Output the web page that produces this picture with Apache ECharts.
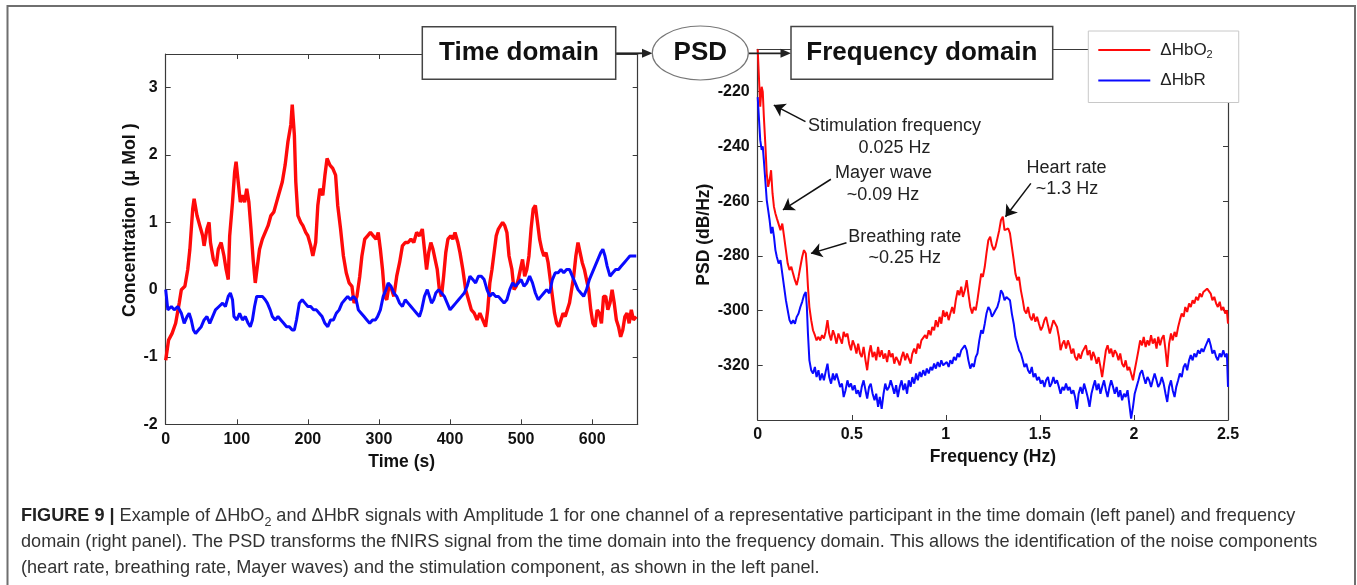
<!DOCTYPE html>
<html><head><meta charset="utf-8">
<script src="https://cdn.jsdelivr.net/npm/echarts@6/dist/echarts.min.js"></script>
<style>html,body{margin:0;padding:0;background:#fff}#c{width:1357px;height:585px}</style>
</head><body><div id="c"></div>
<script>
// ---------- Tick labels ----------
const timeTicks = [0, 100, 200, 300, 400, 500, 600];
const concTicks = [-2, -1, 0, 1, 2, 3];
const freqTicks = [0, 0.5, 1, 1.5, 2, 2.5];
const psdTicks = [-320, -300, -280, -260, -240, -220];

// ---------- Time domain (left panel) ----------
const hbo2Time = [0,4,9,14,19,22,27,31,34,38,
40,44,48,52,54,58,61,63,67,71,
74,78,82,85,88,90,94,97,99,102,
105,108,111,114,117,120,123,126,129,132,
136,140,144,148,152,156,160,164,168,172,
176,178,181,183,186,190,193,197,200,204,
207,211,214,217,221,224,227,231,235,239,
242,246,250,254,258,262,265,269,273,276,
280,284,288,292,296,299,302,305,308,311,
314,318,321,325,329,333,337,341,345,349,
353,357,361,364,367,370,373,376,379,382,
385,388,391,394,397,401,404,407,411,414,
418,422,426,430,434,438,442,446,450,453,
456,459,462,465,468,471,474,477,480,483,
487,490,493,496,499,502,505,508,511,514,
517,520,523,526,529,532,535,538,541,544,
547,550,553,556,559,562,565,568,571,574,
577,580,583,586,589,592,595,598,601,604,
607,610,613,616,619,622,625,628,631,634,
637,640,643,646,649,652,655,658,662];
const hbo2Conc = [-1.05,-0.75,-0.65,-0.5,-0.2,0,0.05,0.3,0.6,1.2,
1.35,1.1,0.95,0.8,0.65,0.9,1.0,0.7,0.45,0.35,
0.6,0.7,0.5,0.3,0.15,0.8,1.3,1.75,1.9,1.6,
1.3,1.4,1.3,1.5,1.3,0.9,0.45,0.1,0.35,0.6,
0.75,0.85,0.95,1.1,1.15,1.3,1.45,1.6,1.85,2.2,
2.45,2.75,2.3,1.6,1.1,1.0,0.95,0.85,0.8,0.65,
0.5,0.7,1.25,1.5,1.4,1.7,1.95,1.85,1.8,1.7,
1.25,0.9,0.5,0.25,0.1,0.05,-0.2,-0.1,0.2,0.5,
0.75,0.8,0.85,0.8,0.75,0.85,0.6,0.3,-0.1,-0.15,
0.05,0.0,-0.1,0.2,0.4,0.65,0.7,0.7,0.75,0.7,
0.85,0.8,0.9,0.6,0.3,0.55,0.7,0.6,0.45,0.3,
0.0,-0.1,0.2,0.55,0.75,0.8,0.75,0.85,0.7,0.55,
0.3,0.0,-0.15,-0.3,-0.35,-0.45,-0.35,-0.45,-0.55,-0.3,
0.1,0.3,0.55,0.8,0.9,0.95,1.0,0.95,0.85,0.5,
0.3,0.0,0.05,0.15,0.3,0.45,0.2,0.3,0.5,0.9,
1.2,1.25,1.0,0.75,0.6,0.5,0.55,0.4,0.15,-0.1,
-0.35,-0.5,-0.55,-0.45,-0.35,-0.4,-0.3,-0.2,0.0,0.2,
0.5,0.7,0.55,0.4,0.3,0.15,0.0,-0.3,-0.5,-0.55,
-0.3,-0.35,-0.5,-0.1,-0.1,-0.3,-0.2,0.0,-0.2,-0.45,
-0.55,-0.7,-0.6,-0.4,-0.35,-0.5,-0.3,-0.45,-0.4];

const hbrTime = [0,3,8,12,17,22,26,30,33,36,
39,42,46,50,54,58,62,66,70,75,
80,84,88,91,94,96,100,104,108,112,
116,119,122,125,128,132,136,140,143,147,
150,154,158,162,166,170,174,178,181,184,
188,192,196,200,204,208,212,216,220,224,
228,232,236,240,244,248,252,256,260,264,
268,271,275,279,283,287,291,295,298,302,
306,310,313,317,321,325,329,333,337,341,
345,349,353,357,360,364,368,371,374,377,
380,384,388,392,396,400,404,408,412,416,
420,424,428,432,436,440,444,448,452,456,
460,464,468,472,476,480,484,488,492,496,
500,504,508,512,516,520,524,528,532,536,
540,544,548,552,556,560,564,568,572,576,
580,584,588,592,596,600,604,608,612,615,
618,621,625,629,633,637,641,645,649,653,
657,662];
const hbrConc = [0.0,-0.3,-0.25,-0.3,-0.25,-0.35,-0.5,-0.4,-0.35,-0.45,
-0.6,-0.65,-0.6,-0.55,-0.45,-0.4,-0.5,-0.4,-0.3,-0.25,
-0.2,-0.25,-0.1,-0.05,-0.15,-0.4,-0.45,-0.35,-0.45,-0.4,
-0.5,-0.55,-0.45,-0.25,-0.1,-0.1,-0.1,-0.15,-0.2,-0.3,
-0.4,-0.45,-0.4,-0.45,-0.5,-0.55,-0.55,-0.6,-0.6,-0.45,
-0.2,-0.15,-0.2,-0.25,-0.25,-0.3,-0.3,-0.35,-0.4,-0.5,
-0.55,-0.45,-0.45,-0.35,-0.3,-0.2,-0.15,-0.1,-0.15,-0.1,
-0.15,-0.3,-0.35,-0.4,-0.45,-0.5,-0.45,-0.45,-0.4,-0.3,
-0.1,0.0,0.1,0.05,-0.05,-0.1,-0.2,-0.25,-0.15,-0.2,
-0.25,-0.3,-0.35,-0.4,-0.3,-0.1,0.0,-0.1,-0.2,-0.15,
-0.05,0.0,-0.05,-0.1,-0.2,-0.3,-0.25,-0.2,-0.15,-0.1,
-0.05,0.05,0.2,0.15,0.1,0.2,0.2,0.15,0.0,-0.1,
-0.05,-0.1,-0.1,-0.15,-0.2,-0.15,0.0,0.1,0.05,0.1,
0.15,0.05,0.1,0.2,0.1,-0.05,-0.15,-0.1,-0.05,0.0,
-0.05,0.15,0.25,0.25,0.3,0.25,0.3,0.3,0.2,0.1,
0.0,-0.05,-0.1,0.0,0.15,0.25,0.35,0.45,0.55,0.6,
0.5,0.35,0.2,0.25,0.3,0.3,0.35,0.4,0.45,0.5,
0.5,0.5];

// ---------- Frequency domain (right panel) ----------
const psdFreq = [0,0.0135,0.0211,0.0269,0.0327,0.0404,0.048,0.0557,0.0634,0.0711,
0.0788,0.0865,0.0942,0.1018,0.1115,0.1211,0.1307,0.1403,0.1499,0.1595,
0.1691,0.1787,0.1883,0.1979,0.2075,0.2171,0.2267,0.2364,0.246,0.2556,
0.2613,0.2671,0.2748,0.2844,0.294,
0.304,0.313,0.323,0.332,0.342,0.352,0.361,0.371,0.380,0.390,
0.400,0.409,0.419,0.429,0.438,0.448,0.457,0.467,0.477,0.486,
0.496,0.505,0.515,0.525,0.534,0.544,0.553,0.563,0.573,0.582,
0.592,0.601,0.611,0.621,0.630,0.640,0.649,0.659,0.669,0.678,
0.688,0.698,0.707,0.717,0.726,0.736,0.745,0.755,0.765,0.774,
0.784,0.794,0.803,0.813,0.822,0.832,0.842,0.851,0.861,0.870,
0.880,0.890,0.899,0.909,0.919,0.928,0.938,0.947,0.957,0.967,
0.976,0.986,0.995,1.005,1.015,1.024,1.034,1.043,1.053,1.063,
1.072,1.082,1.091,1.101,1.111,1.120,1.130,1.140,1.149,1.159,
1.168,1.178,1.188,1.197,1.207,1.216,1.226,1.236,1.245,1.255,
1.264,1.274,1.284,1.293,1.303,1.312,1.322,1.332,1.341,1.351,
1.361,1.370,1.380,1.389,1.399,1.409,1.418,1.428,1.437,1.447,
1.457,1.466,1.476,1.485,1.495,1.505,1.514,1.524,1.533,1.543,
1.553,1.562,1.572,1.581,1.591,1.601,1.610,1.620,1.629,1.639,
1.649,1.658,1.668,1.678,1.687,1.697,1.706,1.716,1.726,1.735,
1.745,1.754,1.764,1.774,1.783,1.793,1.802,1.812,1.822,1.831,
1.841,1.851,1.860,1.870,1.879,1.889,1.898,1.908,1.918,1.927,
1.937,1.947,1.956,1.966,1.975,1.985,1.995,2.004,2.014,2.024,
2.033,2.043,2.052,2.062,2.072,2.081,2.091,2.100,2.110,2.120,
2.129,2.139,2.148,2.158,2.168,2.177,2.187,2.197,2.206,2.216,
2.225,2.235,2.244,2.254,2.264,2.273,2.283,2.293,2.302,2.312,
2.321,2.331,2.341,2.350,2.360,2.369,2.379,2.389,2.398,2.408,
2.417,2.427,2.437,2.446,2.456,2.465,2.475,2.485,2.494,2.500];

const psdHbO2 = [-204.5,-225.5,-218.2,-220.0,-229.1,-238.9,-249.9,-254.8,-252.3,-248.7,
-257.2,-262.1,-264.5,-266.3,-267.0,-270.6,-268.2,-273.0,-277.9,-282.8,
-285.2,-284.0,-286.5,-288.9,-290.7,-287.7,-284.0,-280.4,-277.9,-279.1,
-284.0,-291.3,-298.7,-303.5,-307.2,
-309.0,-310.9,-309.6,-310.9,-309.0,-310.2,-307.8,-303.5,-308.4,-310.9,
-307.2,-309.0,-312.1,-308.4,-310.2,-312.1,-307.8,-309.6,-308.4,-312.1,
-314.5,-310.9,-312.7,-315.7,-312.1,-315.7,-317.0,-313.3,-318.2,-321.8,
-315.7,-312.7,-317.0,-315.1,-318.2,-313.3,-317.0,-314.5,-317.6,-315.7,
-318.8,-314.5,-317.0,-315.7,-319.4,-317.0,-318.2,-320.0,-317.0,-315.1,
-318.2,-315.7,-317.6,-319.4,-315.7,-313.9,-315.7,-312.1,-313.9,-310.9,
-311.5,-309.0,-310.2,-307.2,-309.0,-306.0,-307.2,-303.5,-306.0,-302.3,
-304.8,-299.9,-302.3,-300.5,-303.5,-301.1,-298.7,-301.1,-296.2,-292.6,
-294.4,-291.3,-295.0,-292.6,-288.9,-293.8,-298.7,-301.1,-298.7,-299.9,
-296.2,-291.3,-286.5,-287.7,-284.0,-279.1,-274.3,-273.0,-276.1,-277.9,
-276.7,-273.7,-270.6,-267.0,-265.7,-270.6,-270.6,-270.0,-271.8,-276.7,
-281.6,-286.5,-288.9,-287.7,-292.6,-296.2,-299.9,-301.1,-298.7,-302.3,
-303.5,-301.1,-304.1,-302.3,-304.8,-307.2,-306.0,-303.5,-302.3,-305.4,
-308.4,-306.0,-303.5,-302.9,-306.0,-309.6,-314.5,-312.1,-310.9,-313.9,
-310.9,-312.7,-315.7,-313.9,-317.0,-318.2,-315.7,-317.6,-315.1,-315.7,
-312.7,-316.3,-314.5,-318.2,-315.1,-317.0,-319.4,-317.0,-320.6,-324.3,
-319.4,-314.5,-312.7,-315.7,-313.9,-317.0,-314.5,-315.7,-318.2,-315.7,
-319.4,-320.6,-318.2,-321.8,-320.6,-323.0,-325.5,-321.8,-318.2,-314.5,
-310.9,-312.7,-309.6,-313.3,-310.9,-312.7,-309.0,-312.1,-310.2,-313.9,
-309.6,-312.7,-310.2,-309.0,-314.5,-320.6,-312.1,-308.4,-310.9,-307.8,
-309.6,-306.0,-303.5,-301.1,-302.3,-298.7,-300.5,-297.4,-298.7,-296.2,
-297.4,-295.0,-296.2,-293.8,-295.0,-293.2,-293.8,-292.0,-291.3,-293.8,
-296.2,-295.0,-297.4,-298.7,-296.8,-299.9,-298.7,-301.1,-299.9,-304.8];

const psdHbR = [-222.0,-237.7,-241.3,-240.0,-245.0,-252.3,-259.6,-263.3,-267.0,-271.8,
-269.4,-273.0,-277.9,-280.4,-282.8,-281.6,-286.5,-291.3,-296.2,-299.9,
-303.5,-304.8,-303.5,-304.8,-302.3,-301.1,-298.7,-296.8,-294.4,-293.2,
-298.7,-308.4,-318.2,-321.8,-323.0,
-320.6,-324.3,-321.8,-325.5,-323.0,-325.5,-322.4,-319.4,-324.3,-326.7,
-323.0,-325.5,-323.0,-325.5,-327.9,-326.7,-331.6,-329.1,-325.5,-327.9,
-326.7,-329.1,-327.3,-330.4,-329.1,-331.6,-327.9,-325.5,-329.1,-332.2,
-327.9,-326.7,-330.4,-332.8,-330.4,-335.2,-331.6,-335.9,-330.4,-326.7,
-329.1,-327.9,-325.5,-327.9,-330.4,-327.3,-331.6,-327.9,-325.5,-329.1,
-326.7,-330.4,-325.5,-327.9,-324.3,-326.7,-323.0,-325.5,-322.4,-324.3,
-321.8,-323.7,-321.2,-323.0,-320.6,-321.8,-319.4,-321.2,-318.8,-320.6,
-318.2,-320.0,-320.6,-318.8,-320.6,-318.2,-319.4,-317.0,-318.2,-315.7,
-317.0,-314.5,-315.1,-312.7,-314.5,-318.2,-321.2,-319.4,-320.6,-317.0,
-315.7,-310.9,-307.2,-308.4,-304.8,-301.1,-298.7,-299.9,-302.3,-301.1,
-299.9,-298.7,-296.2,-292.6,-293.8,-296.2,-295.0,-294.4,-296.2,-301.1,
-304.8,-309.6,-312.1,-314.5,-315.7,-318.2,-320.6,-319.4,-321.8,-323.0,
-320.6,-324.3,-323.0,-325.5,-324.3,-326.7,-325.5,-327.9,-325.5,-324.3,
-327.9,-326.7,-324.3,-326.7,-325.5,-327.9,-330.4,-327.9,-329.1,-326.7,
-329.1,-327.9,-330.4,-329.1,-331.6,-335.9,-330.4,-327.9,-330.4,-326.7,
-329.1,-331.6,-335.2,-330.4,-327.9,-325.5,-329.1,-326.7,-330.4,-327.9,
-325.5,-329.1,-331.6,-327.9,-325.5,-327.9,-330.4,-327.9,-331.6,-329.1,
-332.8,-330.4,-331.6,-329.1,-334.0,-339.5,-335.2,-330.4,-327.9,-325.5,
-323.0,-321.8,-324.3,-326.7,-324.3,-325.5,-327.9,-325.5,-323.0,-325.5,
-327.9,-326.7,-324.3,-326.7,-330.4,-333.4,-327.9,-325.5,-329.1,-331.6,
-327.9,-325.5,-323.0,-324.3,-320.6,-319.4,-321.8,-318.2,-316.3,-318.2,
-315.7,-317.0,-314.5,-315.7,-313.9,-315.1,-313.3,-312.7,-310.2,-312.7,
-315.7,-314.5,-317.0,-318.2,-315.7,-317.0,-314.5,-317.0,-315.7,-327.9];

// ---------- Build ----------
const FONT = '"Liberation Sans", Arial, Helvetica, sans-serif';
const RED = '#ff0a0a', BLUE = '#0a0aff', AX = '#3a3a3a';
const zip = (a, b) => a.map((v, i) => [v, b[i]]);
const inList = (list) => (v) => list.some(t => Math.abs(t - v) < 1e-9) ? String(v) : '';

const lblStyle = {fontFamily: FONT, fontSize: 16, fontWeight: 'bold', color: '#111'};
const nameStyle = {fontFamily: FONT, fontSize: 17.5, fontWeight: 'bold', color: '#111'};
function mainAxis(extra) {
  return Object.assign({
    type: 'value', axisLine: {show: true, onZero: false, lineStyle: {color: AX, width: 1.2}},
    axisTick: {show: true, inside: true, length: 5, lineStyle: {color: AX, width: 1}},
    splitLine: {show: false}, nameTextStyle: nameStyle
  }, extra);
}
function mirrorAxis(extra) {
  return Object.assign({
    type: 'value', axisLine: {show: true, onZero: false, lineStyle: {color: AX, width: 1.2}},
    axisTick: {show: true, inside: true, length: 5, lineStyle: {color: AX, width: 1}},
    axisLabel: {show: false}, splitLine: {show: false}
  }, extra);
}

const annText = (x, y, t) => ({type: 'text', x: x, y: y, z: 50,
  style: {text: t, fontFamily: FONT, fontSize: 18, fill: '#222', align: 'center', verticalAlign: 'middle'}});

const caption =
  '{b|FIGURE 9 |} Example of ΔHbO{sub|2} and ΔHbR signals with Amplitude 1 for one channel of a representative participant in the time domain (left panel) and frequency\n' +
  'domain (right panel). The PSD transforms the fNIRS signal from the time domain into the frequency domain. This allows the identification of the noise components\n' +
  '(heart rate, breathing rate, Mayer waves) and the stimulation component, as shown in the left panel.';

const chart = echarts.init(document.getElementById('c'), null, {renderer: 'canvas'});
chart.setOption({
  animation: false,
  backgroundColor: '#fff',
  grid: [
    {left: 165.7, top: 54, width: 472, height: 370.3, containLabel: false},
    {left: 757.7, top: 49.3, width: 470.3, height: 370.7, containLabel: false}
  ],
  xAxis: [
    mainAxis({gridIndex: 0, position: 'bottom', min: timeTicks[0], max: 664, interval: timeTicks[1] - timeTicks[0],
      axisLabel: Object.assign({margin: 7, formatter: inList(timeTicks), showMaxLabel: false}, lblStyle),
      name: 'Time (s)', nameLocation: 'middle', nameGap: 29}),
    mirrorAxis({gridIndex: 0, position: 'top', min: timeTicks[0], max: 664, interval: timeTicks[1] - timeTicks[0]}),
    mainAxis({gridIndex: 1, position: 'bottom', min: freqTicks[0], max: 2.5, interval: freqTicks[1] - freqTicks[0],
      axisLabel: Object.assign({margin: 7, formatter: inList(freqTicks)}, lblStyle),
      name: 'Frequency (Hz)', nameLocation: 'middle', nameGap: 28}),
    mirrorAxis({gridIndex: 1, position: 'top', min: freqTicks[0], max: 2.5, interval: freqTicks[1] - freqTicks[0]})
  ],
  yAxis: [
    mainAxis({gridIndex: 0, position: 'left', min: concTicks[0], max: 3.5, interval: concTicks[1] - concTicks[0],
      axisLabel: Object.assign({margin: 8, formatter: inList(concTicks), showMaxLabel: false}, lblStyle),
      name: 'Concentration  (μ Mol )', nameLocation: 'middle', nameGap: 26,
      nameTextStyle: Object.assign({}, nameStyle, {fontSize: 17.8, padding: [0, 0, 0, 38]})}),
    mirrorAxis({gridIndex: 0, position: 'right', min: concTicks[0], max: 3.5, interval: concTicks[1] - concTicks[0]}),
    mainAxis({gridIndex: 1, position: 'left', min: -340, max: -204.5, interval: 20,
      axisLabel: Object.assign({margin: 8, formatter: inList(psdTicks), showMaxLabel: false, showMinLabel: false}, lblStyle),
      name: 'PSD (dB/Hz)', nameLocation: 'middle', nameGap: 45}),
    mirrorAxis({gridIndex: 1, position: 'right', min: -340, max: -204.5, interval: 20})
  ],
  legend: {
    orient: 'vertical', left: 1088.3, top: 31, z: 20,
    data: [{name: 'ΔHbO2', icon: 'rect'}, {name: 'ΔHbR', icon: 'rect'}],
    itemWidth: 52, itemHeight: 2, itemGap: 10.5,
    padding: [9, 26, 12, 10],
    backgroundColor: '#fff', borderColor: '#c8c8c8', borderWidth: 1, borderRadius: 0,
    formatter: (n) => n === 'ΔHbO2' ? 'ΔHbO{sub|2}' : n,
    textStyle: {fontFamily: FONT, fontSize: 17, lineHeight: 20, color: '#222', padding: [0, 0, 0, 5],
      rich: {sub: {fontFamily: FONT, fontSize: 11, lineHeight: 12, verticalAlign: 'bottom', color: '#222'}}}
  },
  series: [
    {type: 'line', name: 'ΔHbO2', xAxisIndex: 0, yAxisIndex: 0, data: zip(hbo2Time, hbo2Conc),
      symbol: 'none', showSymbol: false, lineStyle: {color: RED, width: 3.4}, itemStyle: {color: RED}, z: 3},
    {type: 'line', name: 'ΔHbR', xAxisIndex: 0, yAxisIndex: 0, data: zip(hbrTime, hbrConc),
      symbol: 'none', showSymbol: false, lineStyle: {color: BLUE, width: 3}, itemStyle: {color: BLUE}, z: 4},
    {type: 'line', name: 'ΔHbO2', xAxisIndex: 2, yAxisIndex: 2, data: zip(psdFreq, psdHbO2),
      symbol: 'none', showSymbol: false, lineStyle: {color: RED, width: 2}, itemStyle: {color: RED}, z: 3,
      markLine: {silent: true, symbol: ['none', 'arrow'], symbolSize: 11, animation: false,
        lineStyle: {color: '#111', width: 1.5, type: 'solid'}, label: {show: false},
        emphasis: {disabled: true},
        data: [
          [{coord: [0.254, -230.96]}, {coord: [0.0856, -224.9]}],
          [{coord: [0.389, -252.0]}, {coord: [0.134, -263.2]}],
          [{coord: [0.472, -275.2]}, {coord: [0.283, -279.1]}],
          [{coord: [1.452, -253.5]}, {coord: [1.317, -265.7]}]
        ]}},
    {type: 'line', name: 'ΔHbR', xAxisIndex: 2, yAxisIndex: 2, data: zip(psdFreq, psdHbR),
      symbol: 'none', showSymbol: false, lineStyle: {color: BLUE, width: 2}, itemStyle: {color: BLUE}, z: 2}
  ],
  graphic: [
    // outer figure frame
    {type: 'polyline', z: 1, shape: {points: [[7.5, 585], [7.5, 6], [1355, 6], [1355, 585]]},
      style: {stroke: '#6f6f6f', lineWidth: 2, fill: null}},
    // flow diagram
    {type: 'line', z: 60, shape: {x1: 615.7, y1: 53.3, x2: 645, y2: 53.3}, style: {stroke: '#222', lineWidth: 1.8}},
    {type: 'polygon', z: 60, shape: {points: [[652.5, 53.3], [642, 48.8], [642, 57.8]]}, style: {fill: '#222'}},
    {type: 'line', z: 60, shape: {x1: 748.3, y1: 53.3, x2: 784, y2: 53.3}, style: {stroke: '#222', lineWidth: 1.8}},
    {type: 'polygon', z: 60, shape: {points: [[791, 53.3], [780.5, 48.8], [780.5, 57.8]]}, style: {fill: '#222'}},
    {type: 'rect', z: 60, shape: {x: 422.3, y: 26.7, width: 193.4, height: 52.6}, style: {fill: '#fff', stroke: '#444', lineWidth: 1.5}},
    {type: 'text', z: 61, x: 519, y: 53, style: {text: 'Time domain', fontFamily: FONT, fontSize: 26, fontWeight: 'bold', fill: '#111', align: 'center', verticalAlign: 'middle'}},
    {type: 'ellipse', z: 60, shape: {cx: 700.3, cy: 53, rx: 48, ry: 27}, style: {fill: '#fff', stroke: '#777', lineWidth: 1.2}},
    {type: 'text', z: 61, x: 700.3, y: 53, style: {text: 'PSD', fontFamily: FONT, fontSize: 26, fontWeight: 'bold', fill: '#111', align: 'center', verticalAlign: 'middle'}},
    {type: 'rect', z: 60, shape: {x: 791, y: 26.5, width: 261.7, height: 52.8}, style: {fill: '#fff', stroke: '#444', lineWidth: 1.5}},
    {type: 'text', z: 61, x: 921.9, y: 53, style: {text: 'Frequency domain', fontFamily: FONT, fontSize: 26, fontWeight: 'bold', fill: '#111', align: 'center', verticalAlign: 'middle'}},
    // PSD annotations
    annText(894.5, 126, 'Stimulation frequency'),
    annText(894.5, 147.7, '0.025 Hz'),
    annText(883.6, 173.3, 'Mayer wave'),
    annText(883, 195, '~0.09 Hz'),
    annText(904.7, 236.7, 'Breathing rate'),
    annText(904.7, 258.3, '~0.25 Hz'),
    annText(1066.5, 167.7, 'Heart rate'),
    annText(1067, 189.3, '~1.3 Hz'),
    // caption
    {type: 'text', z: 50, x: 21, y: 503,
      style: {text: caption, fontFamily: FONT, fontSize: 18.1, fill: '#333', lineHeight: 26, align: 'left', verticalAlign: 'top',
        rich: {
          b: {fontFamily: FONT, fontSize: 18.1, fontWeight: 'bold', fill: '#222', lineHeight: 26},
          sub: {fontFamily: FONT, fontSize: 12.5, fill: '#333', lineHeight: 14, verticalAlign: 'bottom'}
        }}}
  ]
});
</script>
</body></html>
